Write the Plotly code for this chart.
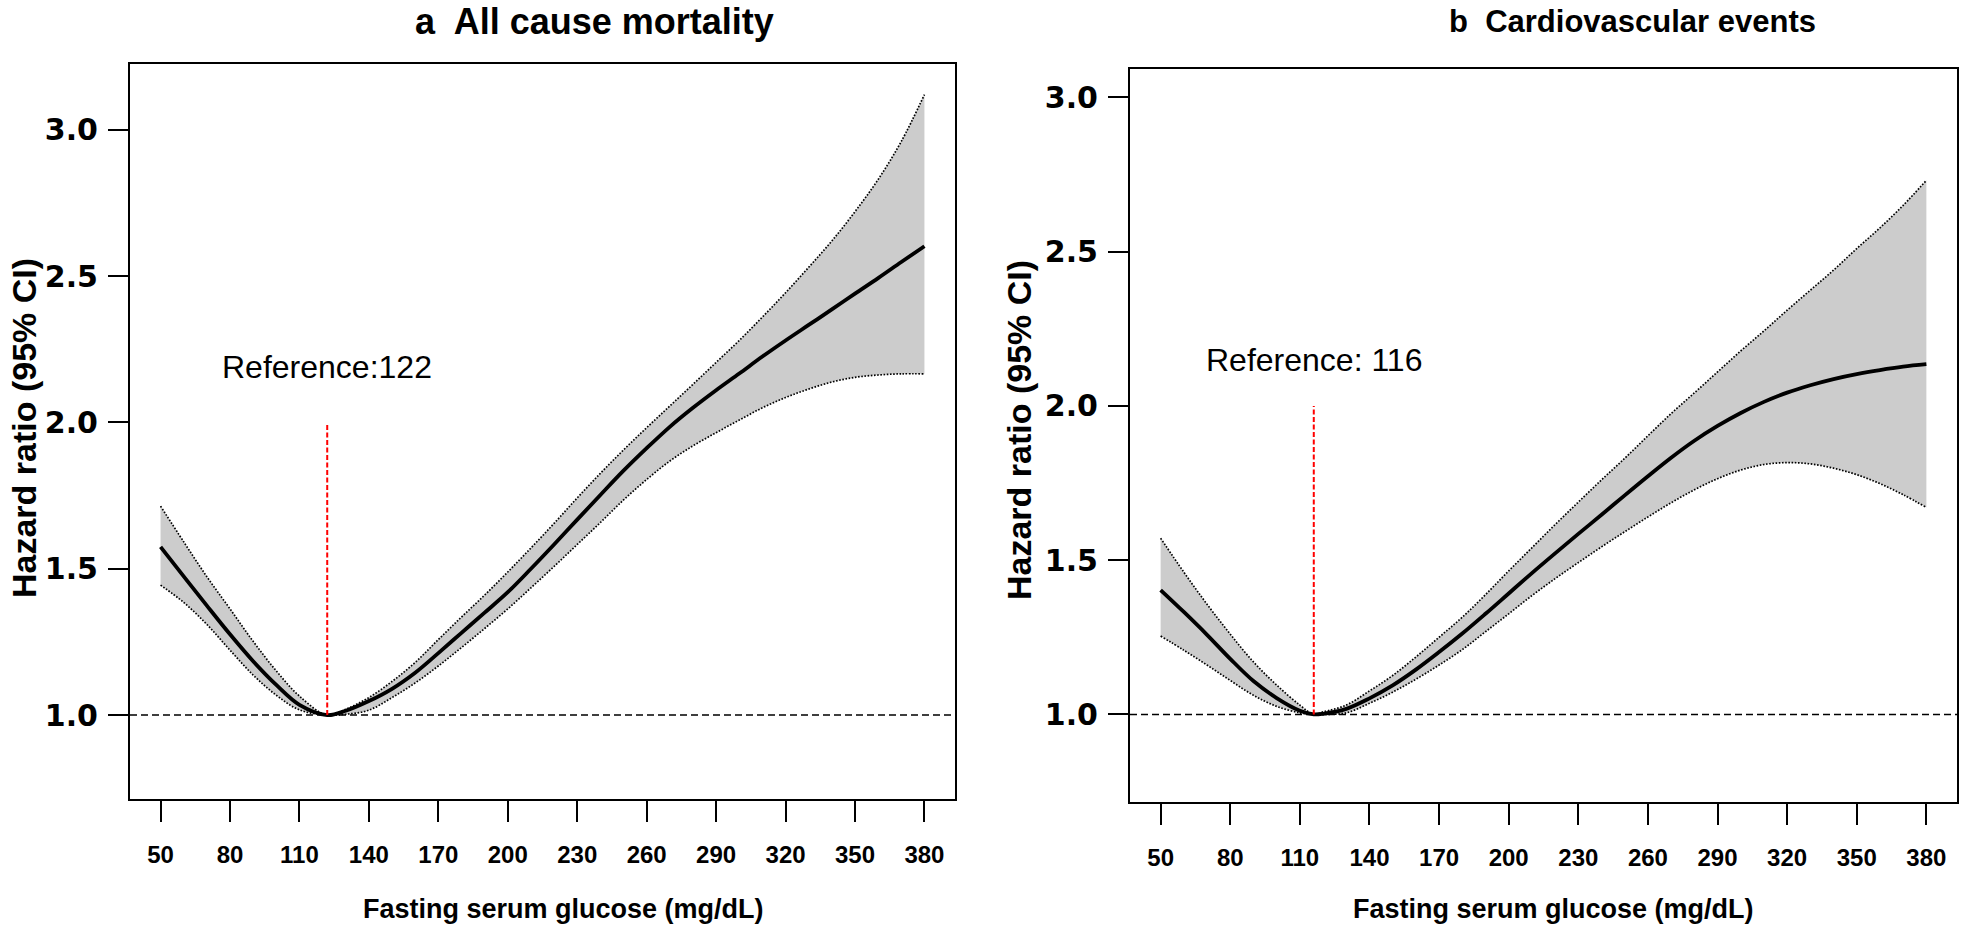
import plotly.graph_objects as go

W, H = 1961, 933

# ---------------- data: panel a (All cause mortality) ----------------
a_x = [50, 60, 70, 80, 90, 100, 110, 122, 130, 140, 150, 160, 170, 180, 190, 200,
       210, 220, 230, 240, 250, 260, 270, 280, 290, 300, 310, 320, 330, 340, 350,
       360, 370, 380]
a_hr = [1.575, 1.474, 1.374, 1.276, 1.184, 1.103, 1.035, 1.0, 1.015, 1.048, 1.09,
        1.145, 1.212, 1.281, 1.350, 1.42, 1.50, 1.583, 1.668, 1.752, 1.835, 1.912,
        1.985, 2.05, 2.11, 2.167, 2.225, 2.28, 2.333, 2.386, 2.44, 2.493, 2.548, 2.602]
a_upper = [1.714, 1.592, 1.473, 1.363, 1.252, 1.151, 1.065, 1.0, 1.02, 1.06, 1.115,
           1.18, 1.258, 1.335, 1.41, 1.489, 1.571, 1.655, 1.742, 1.826, 1.906, 1.982,
           2.056, 2.13, 2.205, 2.28, 2.36, 2.443, 2.53, 2.62, 2.72, 2.83, 2.96, 3.12]
a_lower = [1.444, 1.385, 1.310, 1.222, 1.137, 1.068, 1.018, 1.0, 1.003, 1.017, 1.06,
           1.11, 1.168, 1.231, 1.296, 1.363, 1.435, 1.508, 1.583, 1.658, 1.735, 1.805,
           1.868, 1.92, 1.965, 2.008, 2.05, 2.085, 2.114, 2.138, 2.154, 2.162, 2.166, 2.166]
a_ref = 122

# ---------------- data: panel b (Cardiovascular events) ----------------
b_x = [50, 60, 70, 80, 90, 100, 110, 116, 120, 130, 140, 150, 160, 170, 180, 190,
       200, 210, 220, 230, 240, 250, 260, 270, 280, 290, 300, 310, 320, 330, 340,
       350, 360, 370, 380]
b_hr = [1.403, 1.332, 1.258, 1.180, 1.108, 1.053, 1.012, 1.0, 1.002, 1.018, 1.052,
        1.094, 1.145, 1.202, 1.262, 1.326, 1.392, 1.458, 1.522, 1.585, 1.647, 1.71,
        1.772, 1.832, 1.887, 1.935, 1.977, 2.013, 2.043, 2.067, 2.087, 2.103, 2.116,
        2.127, 2.135]
b_upper = [1.571, 1.461, 1.357, 1.26, 1.17, 1.095, 1.03, 1.0, 1.008, 1.03, 1.076,
           1.126, 1.186, 1.25, 1.315, 1.388, 1.465, 1.54, 1.615, 1.688, 1.76, 1.83,
           1.903, 1.975, 2.042, 2.11, 2.178, 2.243, 2.31, 2.375, 2.44, 2.51, 2.577,
           2.65, 2.731]
b_lower = [1.254, 1.208, 1.160, 1.11, 1.062, 1.026, 1.005, 1.0, 1.0, 1.005, 1.036,
           1.072, 1.114, 1.16, 1.21, 1.268, 1.326, 1.385, 1.44, 1.492, 1.543, 1.592,
           1.64, 1.686, 1.728, 1.764, 1.792, 1.81, 1.816, 1.812, 1.798, 1.777, 1.748,
           1.712, 1.671]
b_ref = 116

x_ticks = [50, 80, 110, 140, 170, 200, 230, 260, 290, 320, 350, 380]
y_ticks = [1.0, 1.5, 2.0, 2.5, 3.0]
y_tick_text = ["1.0", "1.5", "2.0", "2.5", "3.0"]

titles = ["a  All cause mortality", "b  Cardiovascular events"]
ref_labels = ["Reference:122", "Reference: 116"]
x_title = "Fasting serum glucose (mg/dL)"
y_title = "Hazard ratio (95% CI)"

FONT = "Liberation Sans, Arial, Helvetica, sans-serif"
WIDE = "DejaVu Sans, Liberation Sans, sans-serif"
FILL = "#cccccc"


def px(sx):
    return sx / W


def py(sy):
    return 1 - sy / H


fig = go.Figure()

panels = [
    dict(x=a_x, hr=a_hr, up=a_upper, lo=a_lower, ref=a_ref, xa="x", ya="y",
         ref_y=2.19),
    dict(x=b_x, hr=b_hr, up=b_upper, lo=b_lower, ref=b_ref, xa="x2", ya="y2",
         ref_y=2.15),
]

for i, p in enumerate(panels):
    fig.add_trace(go.Scatter(x=p["x"], y=p["lo"], mode="lines",
                             line=dict(color="black", width=1.7, dash="1.6px,1.6px",
                                       shape="spline", smoothing=1.0),
                             xaxis=p["xa"], yaxis=p["ya"], showlegend=False,
                             hoverinfo="skip"))
    fig.add_trace(go.Scatter(x=p["x"], y=p["up"], mode="lines", fill="tonexty",
                             fillcolor=FILL,
                             line=dict(color="black", width=1.7, dash="1.6px,1.6px",
                                       shape="spline", smoothing=1.0),
                             xaxis=p["xa"], yaxis=p["ya"], showlegend=False,
                             hoverinfo="skip"))
    fig.add_trace(go.Scatter(x=p["x"], y=p["hr"], mode="lines",
                             line=dict(color="black", width=3.8, shape="spline",
                                       smoothing=1.0),
                             xaxis=p["xa"], yaxis=p["ya"], showlegend=False))
    fig.add_shape(type="line", xref=f"{p['xa']} domain", yref=p["ya"],
                  x0=0, x1=1, y0=1, y1=1,
                  line=dict(color="black", width=1.5, dash="7px,4px"), layer="above")
    fig.add_shape(type="line", xref=p["xa"], yref=p["ya"],
                  x0=p["ref"], x1=p["ref"], y0=1, y1=2.0,
                  line=dict(color="red", width=2, dash="5px,2.5px"), layer="above")
    fig.add_annotation(x=p["ref"], y=p["ref_y"], xref=p["xa"], yref=p["ya"],
                       text=ref_labels[i], showarrow=False,
                       font=dict(family=FONT, size=32, color="black"))

# ---------------- axes (pixel positions of the plot boxes in the window) ----
px_l = [(130, 955), (1130, 1957)]
px_tb = [(64.3, 799.3), (69.3, 802)]
y_ranges = [[0.7124, 3.2235], [0.716, 3.091]]

axis_common = dict(showline=True, linecolor="black", linewidth=2, mirror=True,
                   showgrid=False, zeroline=False, ticks="outside",
                   tickcolor="black", tickwidth=1.6, automargin=False)

for i in range(2):
    xl, xr = px_l[i]
    yt, yb = px_tb[i]
    xd = [px(xl), px(xr)]
    yd = [py(yb), py(yt)]
    sfx = "" if i == 0 else str(i + 1)
    fig.update_layout(**{
        f"xaxis{sfx}": dict(domain=xd, range=[36.8, 393.2], tickmode="array",
                            tickvals=x_ticks, ticklen=21, ticklabelstandoff=12,
                            tickfont=dict(family=FONT, size=24, color="black",
                                          weight="bold"),
                            anchor=f"y{sfx}", **axis_common),
        f"yaxis{sfx}": dict(domain=yd, range=y_ranges[i], tickmode="array",
                            tickvals=y_ticks, ticktext=y_tick_text, ticklen=20,
                            ticklabelstandoff=4,
                            tickfont=dict(family=WIDE, size=30, color="black",
                                          weight="bold"),
                            anchor=f"x{sfx}", **axis_common),
    })

# ---------------- titles ----------------
title_pos = [(594, 22), (1632, 22)]
title_size = [36, 31]
xtitle_pos = [(563, 909), (1553, 909)]
ytitle_pos = [(24, 428), (1019, 430)]
for i in range(2):
    tx, ty = title_pos[i]
    fig.add_annotation(x=px(tx), y=py(ty), xref="paper", yref="paper",
                       text=f"<b>{titles[i]}</b>", showarrow=False,
                       xanchor="center", yanchor="middle",
                       font=dict(family=FONT, size=title_size[i], color="black"))
    tx, ty = xtitle_pos[i]
    fig.add_annotation(x=px(tx), y=py(ty), xref="paper", yref="paper",
                       text=f"<b>{x_title}</b>", showarrow=False,
                       xanchor="center", yanchor="middle",
                       font=dict(family=FONT, size=27, color="black"))
    tx, ty = ytitle_pos[i]
    fig.add_annotation(x=px(tx), y=py(ty), xref="paper", yref="paper",
                       text=f"<b>{y_title}</b>", showarrow=False, textangle=-90,
                       xanchor="center", yanchor="middle",
                       font=dict(family=FONT, size=34, color="black"))

fig.update_layout(width=W, height=H, margin=dict(l=0, r=0, t=0, b=0),
                  paper_bgcolor="white", plot_bgcolor="white",
                  font=dict(family=FONT, color="black"))

fig.write_html("out.html", config={"displayModeBar": False},
               post_script="document.body.style.margin='0';"
                           "document.body.style.overflow='hidden';")
